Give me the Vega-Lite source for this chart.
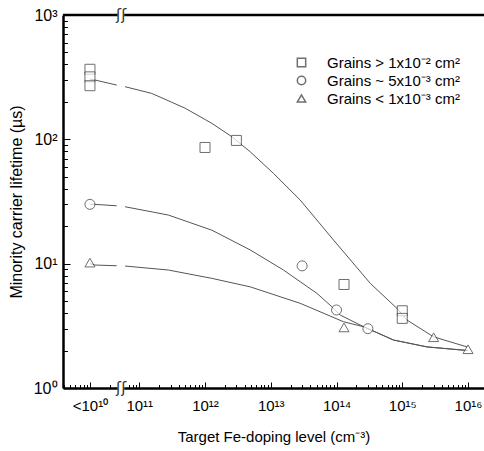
{
  "$schema": "https://vega.github.io/schema/vega-lite/v6.json",
  "width": 421,
  "height": 373,
  "autosize": {"type": "none"},
  "padding": {"left": 63, "top": 15, "right": 0, "bottom": 63},
  "background": "white",
  "config": {"view": {"stroke": null}, "font": "Liberation Sans"},
  "datasets": {
    "pts": [
      {"series": "Grains > 1x10⁻² cm²", "x": 17782794100, "y": 366},
      {"series": "Grains > 1x10⁻² cm²", "x": 17782794100, "y": 318},
      {"series": "Grains > 1x10⁻² cm²", "x": 17782794100, "y": 270},
      {"series": "Grains > 1x10⁻² cm²", "x": 1e12, "y": 86},
      {"series": "Grains > 1x10⁻² cm²", "x": 3e12, "y": 98},
      {"series": "Grains > 1x10⁻² cm²", "x": 1.3e14, "y": 6.8},
      {"series": "Grains > 1x10⁻² cm²", "x": 1e15, "y": 4.18},
      {"series": "Grains > 1x10⁻² cm²", "x": 1e15, "y": 3.63},
      {"series": "Grains ~ 5x10⁻³ cm²", "x": 17782794100, "y": 30},
      {"series": "Grains ~ 5x10⁻³ cm²", "x": 3e13, "y": 9.6},
      {"series": "Grains ~ 5x10⁻³ cm²", "x": 1e14, "y": 4.24},
      {"series": "Grains ~ 5x10⁻³ cm²", "x": 3e14, "y": 3.0},
      {"series": "Grains < 1x10⁻³ cm²", "x": 17782794100, "y": 10.2},
      {"series": "Grains < 1x10⁻³ cm²", "x": 1.3e14, "y": 3.07},
      {"series": "Grains < 1x10⁻³ cm²", "x": 3e15, "y": 2.56},
      {"series": "Grains < 1x10⁻³ cm²", "x": 1e16, "y": 2.05}
    ],
    "curves": [
      {"series": "A", "seg": "a", "x": 17782794100, "y": 305},
      {"series": "A", "seg": "a", "x": 2.12e10, "y": 300},
      {"series": "A", "seg": "a", "x": 4.55e10, "y": 273},
      {"series": "A", "seg": "b", "x": 6.08e10, "y": 265},
      {"series": "A", "seg": "b", "x": 1.55e11, "y": 234},
      {"series": "A", "seg": "b", "x": 4.98e11, "y": 178},
      {"series": "A", "seg": "b", "x": 1.27e12, "y": 134.5},
      {"series": "A", "seg": "b", "x": 2.56e12, "y": 105},
      {"series": "A", "seg": "b", "x": 4.86e12, "y": 79.5},
      {"series": "A", "seg": "b", "x": 1.1e13, "y": 53.2},
      {"series": "A", "seg": "b", "x": 2.8e13, "y": 32.5},
      {"series": "A", "seg": "b", "x": 9e13, "y": 15.5},
      {"series": "A", "seg": "b", "x": 3.26e14, "y": 6.95},
      {"series": "A", "seg": "b", "x": 8.3e14, "y": 4.37},
      {"series": "A", "seg": "b", "x": 1.18e15, "y": 3.52},
      {"series": "A", "seg": "b", "x": 2.99e15, "y": 2.58},
      {"series": "A", "seg": "b", "x": 9.66e15, "y": 2.14},
      {"series": "B", "seg": "a", "x": 17782794100, "y": 30},
      {"series": "B", "seg": "a", "x": 2.12e10, "y": 30},
      {"series": "B", "seg": "a", "x": 4.55e10, "y": 29.2},
      {"series": "B", "seg": "b", "x": 6.08e10, "y": 28.7},
      {"series": "B", "seg": "b", "x": 2.77e11, "y": 24.6},
      {"series": "B", "seg": "b", "x": 1.27e12, "y": 18.6},
      {"series": "B", "seg": "b", "x": 4.86e12, "y": 12.9},
      {"series": "B", "seg": "b", "x": 1.56e13, "y": 8.89},
      {"series": "B", "seg": "b", "x": 5.04e13, "y": 5.77},
      {"series": "B", "seg": "b", "x": 8.51e13, "y": 4.5},
      {"series": "B", "seg": "b", "x": 1.14e14, "y": 3.86},
      {"series": "B", "seg": "b", "x": 2.58e14, "y": 3.11},
      {"series": "B", "seg": "b", "x": 7.38e14, "y": 2.43},
      {"series": "B", "seg": "b", "x": 2.38e15, "y": 2.14},
      {"series": "B", "seg": "b", "x": 1e16, "y": 2.0},
      {"series": "C", "seg": "a", "x": 17782794100, "y": 10},
      {"series": "C", "seg": "a", "x": 2.12e10, "y": 9.75},
      {"series": "C", "seg": "a", "x": 4.55e10, "y": 9.62},
      {"series": "C", "seg": "b", "x": 6.08e10, "y": 9.57},
      {"series": "C", "seg": "b", "x": 2.77e11, "y": 8.89},
      {"series": "C", "seg": "b", "x": 1.27e12, "y": 7.62},
      {"series": "C", "seg": "b", "x": 4.86e12, "y": 6.51},
      {"series": "C", "seg": "b", "x": 2.8e13, "y": 4.8},
      {"series": "C", "seg": "b", "x": 1.28e14, "y": 3.41},
      {"series": "C", "seg": "b", "x": 2.58e14, "y": 3.11},
      {"series": "C", "seg": "b", "x": 7.38e14, "y": 2.43},
      {"series": "C", "seg": "b", "x": 2.38e15, "y": 2.14},
      {"series": "C", "seg": "b", "x": 1e16, "y": 2.0}
    ],
    "brk": [
      {"x": 4.7e10, "x2": 5.9e10, "xm": 5.3e10, "y": 1},
      {"x": 4.7e10, "x2": 5.9e10, "xm": 5.3e10, "y": 1000}
    ],
    "border": [{"y": 1000}]
  },
  "layer": [
    {
      "data": {"name": "curves"},
      "mark": {"type": "line", "color": "#555", "strokeWidth": 1},
      "encoding": {
        "x": {
          "field": "x", "type": "quantitative",
          "scale": {"type": "log", "domain": [6.92e9, 1.75e16], "nice": false},
          "axis": {
            "title": "Target Fe-doping level (cm⁻³)",
            "values": [7.113e9, 8.891e9, 1.0670e10, 1.2448e10, 1.4226e10, 1.6005e10, 17782794100, 3.5566e10,
              7e10, 8e10, 9e10, 1e11, 2e11, 3e11, 4e11, 5e11, 6e11, 7e11, 8e11, 9e11,
              1e12, 2e12, 3e12, 4e12, 5e12, 6e12, 7e12, 8e12, 9e12,
              1e13, 2e13, 3e13, 4e13, 5e13, 6e13, 7e13, 8e13, 9e13,
              1e14, 2e14, 3e14, 4e14, 5e14, 6e14, 7e14, 8e14, 9e14,
              1e15, 2e15, 3e15, 4e15, 5e15, 6e15, 7e15, 8e15, 9e15, 1e16],
            "labelExpr": "datum.value == 17782794100 ? '<10¹⁰' : datum.value == 1e11 ? '10¹¹' : datum.value == 1e12 ? '10¹²' : datum.value == 1e13 ? '10¹³' : datum.value == 1e14 ? '10¹⁴' : datum.value == 1e15 ? '10¹⁵' : datum.value == 1e16 ? '10¹⁶' : ''",
            "tickSize": -6,
            "tickDash": {"condition": {"test": "datum.value == 17782794100 || datum.value == 1e11 || datum.value == 1e12 || datum.value == 1e13 || datum.value == 1e14 || datum.value == 1e15 || datum.value == 1e16", "value": [20, 0]}, "value": [3.5, 20]},
            "tickColor": "black", "tickWidth": 1,
            "domainColor": "black", "domainWidth": 2.5,
            "labelFontSize": 15, "labelColor": "black", "labelPadding": 16,
            "labelOverlap": false, "labelFlush": false,
            "titleFontSize": 15, "titleFontWeight": "normal", "titleColor": "black", "titlePadding": 16,
            "grid": false
          }
        },
        "y": {
          "field": "y", "type": "quantitative",
          "scale": {"type": "log", "domain": [1, 1000], "nice": false},
          "axis": {
            "title": "Minority carrier lifetime (µs)",
            "values": [1, 2, 3, 4, 5, 6, 7, 8, 9, 10, 20, 30, 40, 50, 60, 70, 80, 90, 100, 200, 300, 400, 500, 600, 700, 800, 900, 1000],
            "labelExpr": "datum.value == 1 ? '10⁰' : datum.value == 10 ? '10¹' : datum.value == 100 ? '10²' : datum.value == 1000 ? '10³' : ''",
            "tickSize": -7,
            "tickDash": {"condition": {"test": "datum.value == 1 || datum.value == 10 || datum.value == 100 || datum.value == 1000", "value": [20, 0]}, "value": [4.5, 20]},
            "tickColor": "black", "tickWidth": 1,
            "domainColor": "black", "domainWidth": 2.5,
            "labelFontSize": 16, "labelColor": "black", "labelPadding": 13,
            "labelOverlap": false, "labelFlush": false,
            "titleFontSize": 16, "titleFontWeight": "normal", "titleColor": "black", "titlePadding": 9,
            "grid": false
          }
        },
        "detail": [{"field": "series"}, {"field": "seg"}]
      }
    },
    {
      "data": {"name": "border"},
      "mark": {"type": "rule", "color": "black", "strokeWidth": 2.5},
      "encoding": {"y": {"field": "y", "type": "quantitative"}}
    },
    {
      "data": {"name": "brk"},
      "mark": {"type": "rule", "color": "white", "strokeWidth": 5},
      "encoding": {
        "x": {"field": "x", "type": "quantitative"},
        "x2": {"field": "x2"},
        "y": {"field": "y", "type": "quantitative"}
      }
    },
    {
      "data": {"name": "brk"},
      "mark": {"type": "text", "text": "ʃʃ", "font": "DejaVu Sans", "fontSize": 15, "baseline": "middle", "align": "center", "color": "#333"},
      "encoding": {
        "x": {"field": "xm", "type": "quantitative"},
        "y": {"field": "y", "type": "quantitative"}
      }
    },
    {
      "data": {"name": "pts"},
      "mark": {"type": "point", "filled": true, "fill": "white", "stroke": "#333", "strokeWidth": 1, "size": 100},
      "encoding": {
        "x": {"field": "x", "type": "quantitative"},
        "y": {"field": "y", "type": "quantitative"},
        "shape": {
          "field": "series", "type": "nominal",
          "scale": {"domain": ["Grains > 1x10⁻² cm²", "Grains ~ 5x10⁻³ cm²", "Grains < 1x10⁻³ cm²"], "range": ["square", "circle", "triangle-up"]},
          "legend": {
            "orient": "none", "legendX": 231, "legendY": 40, "title": null,
            "symbolSize": 70, "labelFontSize": 15, "labelColor": "black", "labelOffset": 18, "rowPadding": 2
          }
        }
      }
    }
  ]
}
